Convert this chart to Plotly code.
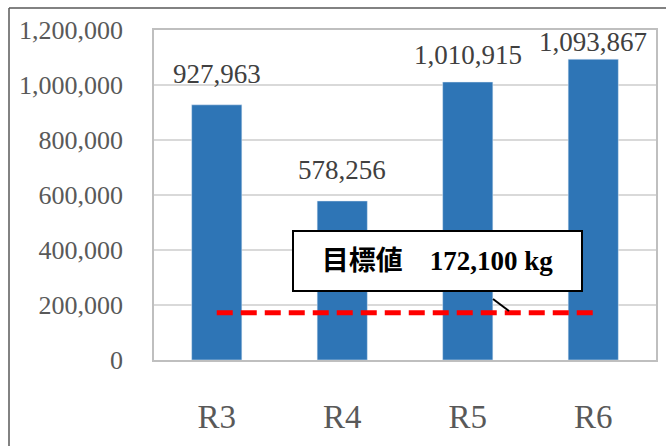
import plotly.graph_objects as go

categories = ["R3", "R4", "R5", "R6"]
values = [927963, 578256, 1010915, 1093867]
target = 172100
target_text = "目標値　172,100 kg"
y_ticks = [0, 200000, 400000, 600000, 800000, 1000000, 1200000]

BAR = "#2E75B6"
SERIF = "Liberation Serif, Times New Roman, serif"

W, H = 666, 446
L, R, T, B = 154, 10, 30, 86
PW, PH = W - L - R, H - T - B


def px(x):
    return (x - L) / PW


def py(y):
    return (H - B - y) / PH


fig = go.Figure()
fig.add_trace(go.Bar(
    x=categories, y=values,
    marker_color=BAR, width=0.4,
    hoverinfo="skip",
))
fig.add_trace(go.Scatter(
    x=categories, y=[target] * len(categories),
    mode="lines",
    line=dict(color="#FF0000", width=5, dash="16px,8px"),
    hoverinfo="skip",
))

# data labels (last one pushed down to fit, like Excel)
shifts = [14, 14, 10, 0]
for c, v, s in zip(categories, values, shifts):
    fig.add_annotation(
        x=c, y=v, text=f"{v:,}", showarrow=False,
        yanchor="bottom", yshift=s,
        font=dict(family=SERIF, size=27, color="#404040"),
    )

# callout box
fig.add_annotation(
    xref="paper", yref="paper", x=px(437.5), y=py(261),
    xanchor="center", yanchor="middle",
    text=f"<b>{target_text}</b>", showarrow=False,
    width=285, height=56,
    bgcolor="white", bordercolor="black", borderwidth=2,
    font=dict(family="Liberation Serif, Noto Sans CJK JP, serif", size=27, color="black"),
)
fig.add_shape(type="line", xref="paper", yref="paper",
              x0=px(493), y0=py(299), x1=px(509), y1=py(311),
              line=dict(color="black", width=2))

# outer chart frame (cropped)
fig.add_shape(type="line", xref="paper", yref="paper",
              x0=px(9), y0=py(8), x1=px(700), y1=py(8),
              line=dict(color="#595959", width=1.5))
fig.add_shape(type="line", xref="paper", yref="paper",
              x0=px(9), y0=py(8), x1=px(9), y1=py(500),
              line=dict(color="#595959", width=1.5))

fig.update_layout(
    width=W, height=H,
    margin=dict(l=L, r=R, t=T, b=B),
    paper_bgcolor="white", plot_bgcolor="white",
    showlegend=False,
    xaxis=dict(
        automargin=False,
        showline=True, mirror=True, linecolor="#BFBFBF", linewidth=1.5,
        ticks="", ticklabelstandoff=27,
        tickfont=dict(family=SERIF, size=33, color="#595959"),
    ),
    yaxis=dict(
        automargin=False,
        range=[0, 1200000], tickvals=y_ticks, tickformat=",d",
        showline=True, mirror=True, linecolor="#BFBFBF", linewidth=1.5,
        showgrid=True, gridcolor="#D9D9D9", gridwidth=1.5,
        zeroline=False, ticks="", ticklabelstandoff=24,
        tickfont=dict(family=SERIF, size=26, color="#595959"),
    ),
)

fig.write_html("out.html", config={"displayModeBar": False},
               post_script="document.body.style.margin='0';")
